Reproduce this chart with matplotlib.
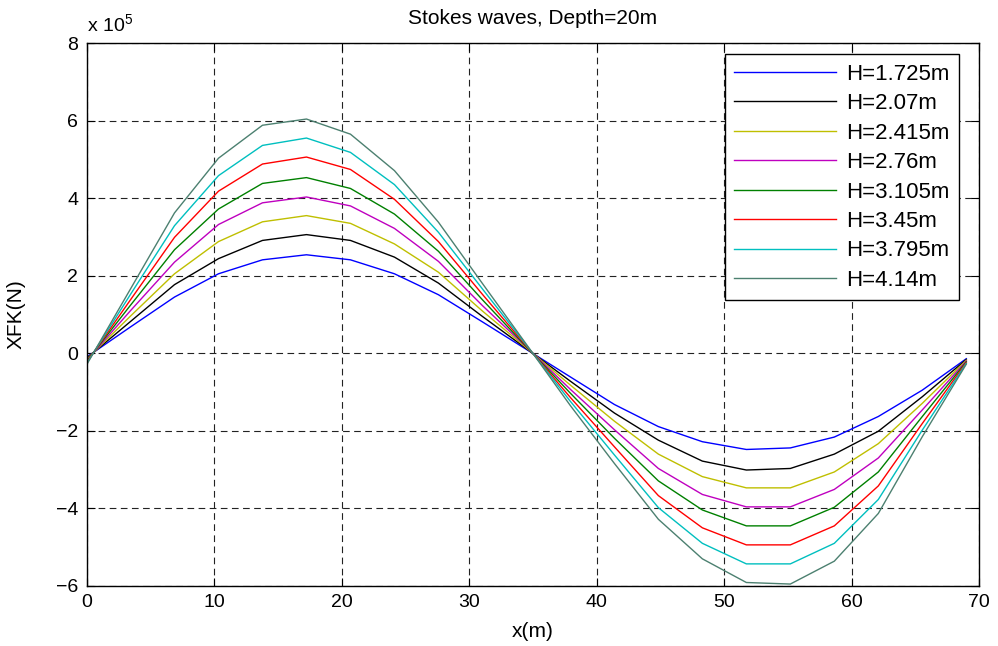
import matplotlib
matplotlib.use("Agg")
import matplotlib.pyplot as plt

plt.rcParams['font.family'] = ['Liberation Sans', 'DejaVu Sans']
plt.rcParams['mathtext.fontset'] = 'custom'
plt.rcParams['mathtext.rm'] = 'Liberation Sans'

# x positions (m)
x = [0, 3.45, 6.9, 10.35, 13.8, 17.25, 20.7, 24.15, 27.6, 31.05, 34.5,
     37.95, 41.4, 44.85, 48.3, 51.75, 55.2, 58.65, 62.1, 65.55, 69]

# XFK values, in units of 1e5 N
h1725 = [-0.10, 0.68, 1.45, 2.05, 2.41, 2.54, 2.41, 2.05, 1.51, 0.81, 0.10,
         -0.61, -1.32, -1.89, -2.28, -2.48, -2.44, -2.16, -1.63, -0.95, -0.14]
h2070 = [-0.13, 0.82, 1.77, 2.44, 2.91, 3.06, 2.91, 2.48, 1.81, 0.95, 0.12,
         -0.72, -1.54, -2.24, -2.78, -3.01, -2.97, -2.60, -2.01, -1.12, -0.16]
h2415 = [-0.16, 0.96, 2.05, 2.88, 3.39, 3.55, 3.35, 2.82, 2.09, 1.09, 0.14,
         -0.82, -1.75, -2.60, -3.18, -3.47, -3.47, -3.06, -2.33, -1.29, -0.18]
h2760 = [-0.19, 1.10, 2.35, 3.32, 3.88, 4.03, 3.80, 3.22, 2.37, 1.23, 0.16,
         -0.93, -1.97, -2.97, -3.64, -3.96, -3.96, -3.51, -2.70, -1.46, -0.20]
h3105 = [-0.21, 1.24, 2.67, 3.72, 4.38, 4.53, 4.25, 3.59, 2.63, 1.38, 0.17,
         -1.03, -2.19, -3.29, -4.04, -4.45, -4.45, -3.97, -3.06, -1.63, -0.22]
h3450 = [-0.24, 1.38, 2.99, 4.18, 4.88, 5.06, 4.74, 3.97, 2.88, 1.52, 0.19,
         -1.14, -2.41, -3.67, -4.50, -4.94, -4.94, -4.45, -3.42, -1.81, -0.24]
h3795 = [-0.27, 1.52, 3.29, 4.58, 5.36, 5.55, 5.18, 4.35, 3.12, 1.66, 0.21,
         -1.24, -2.62, -3.98, -4.90, -5.43, -5.43, -4.90, -3.77, -1.98, -0.26]
h4140 = [-0.30, 1.66, 3.62, 5.03, 5.88, 6.04, 5.65, 4.71, 3.38, 1.80, 0.23,
         -1.35, -2.84, -4.28, -5.30, -5.91, -5.95, -5.36, -4.13, -2.15, -0.28]

series = [h1725, h2070, h2415, h2760, h3105, h3450, h3795, h4140]
labels = ['H=1.725m', 'H=2.07m', 'H=2.415m', 'H=2.76m',
          'H=3.105m', 'H=3.45m', 'H=3.795m', 'H=4.14m']
colors = ['#0000ff', '#000000', '#bfbf00', '#bf00bf',
          '#008000', '#ff0000', '#00bfbf', '#4c8070']

fig = plt.figure(figsize=(9.98, 6.46), dpi=100)
ax = fig.add_axes([0.0867, 0.0929, 0.8943, 0.8405])

for ys, lab, c in zip(series, labels, colors):
    ax.plot(x, ys, color=c, linewidth=1.0, label=lab)

ax.set_xlim(0, 70)
ax.set_ylim(-6, 8)
ax.set_xticks(range(0, 71, 10))
ax.set_yticks(range(-6, 9, 2))
ax.grid(True, color='#222222', linestyle=(0, (6, 4)), linewidth=0.8)
ax.tick_params(direction='in', top=True, right=True, length=6,
               labelsize=14, colors='k', pad=6)
for sp in ax.spines.values():
    sp.set_linewidth(1.0)

ax.set_title('Stokes waves, Depth=20m', fontsize=15, pad=14)
ax.set_xlabel('x(m)', fontsize=15, labelpad=8)
ax.set_ylabel('XFK(N)', fontsize=15, labelpad=22)
ax.text(0.0, 1.012, r'x 10$^{5}$', transform=ax.transAxes,
        ha='left', va='bottom', fontsize=14)

leg = ax.legend(loc='upper right', bbox_to_anchor=(0.9776, 0.979),
                borderaxespad=0, fontsize=16, fancybox=False, framealpha=1,
                edgecolor='k', handlelength=4.6, handletextpad=0.45,
                labelspacing=0.38, borderpad=0.42)
leg.get_frame().set_linewidth(1.0)

fig.savefig('out.png', dpi=100)
